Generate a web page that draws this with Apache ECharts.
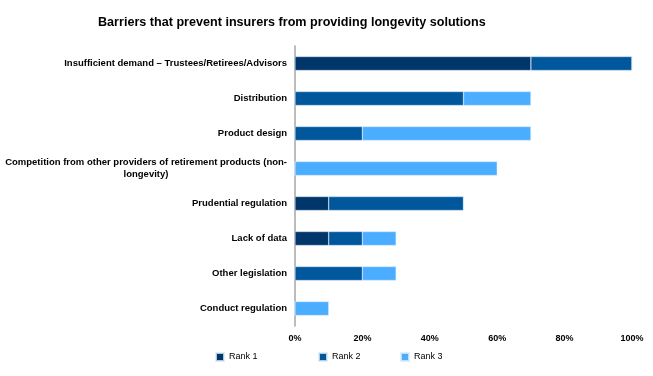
<!DOCTYPE html>
<html>
<head>
<meta charset="utf-8">
<script src="https://cdn.jsdelivr.net/npm/echarts@6/dist/echarts.min.js"></script>
<style>
  html, body { margin: 0; padding: 0; background: #fff; }
  #main { width: 653px; height: 376px; }
</style>
</head>
<body>
<div id="main"></div>
<script>
// categories, top to bottom
const categories = [
  'Insufficient demand \u2013 Trustees/Retirees/Advisors',
  'Distribution',
  'Product design',
  'Competition from other providers of retirement products (non-\nlongevity)',
  'Prudential regulation',
  'Lack of data',
  'Other legislation',
  'Conduct regulation'
];
const rank1 = [70, 0, 0, 0, 10, 10, 0, 0];
const rank2 = [30, 50, 20, 0, 40, 10, 20, 0];
const rank3 = [0, 20, 50, 60, 0, 10, 10, 10];
const xTicks = [0, 20, 40, 60, 80, 100];

const colors = ['#00366A', '#00579C', '#4BADFF'];
const font = 'Liberation Sans, Arial, sans-serif';

let myChart = echarts.init(document.getElementById('main'));

function seriesOf(name, data, color) {
  return {
    name: name,
    type: 'bar',
    stack: 'total',
    barWidth: 14,
    data: data,
    itemStyle: { color: color, borderColor: 'rgba(220,235,250,0.8)', borderWidth: 0.5 },
    emphasis: { disabled: true }
  };
}

function legendAt(left, name) {
  return {
    data: [name],
    left: left,
    top: 347,
    itemWidth: 8,
    itemHeight: 8,
    itemGap: 5,
    icon: 'rect',
    textStyle: { fontFamily: font, fontSize: 9, color: '#000' }
  };
}

// two-line label: second line centred under the first, like the original
function labelText(v) {
  const parts = v.split('\n');
  if (parts.length < 2) return v;
  return parts[0] + '\n{c|' + parts[1] + '}';
}

let option = {
  animation: false,
  title: {
    text: 'Barriers that prevent insurers from providing longevity solutions',
    left: 93,
    top: 11,
    textStyle: { fontFamily: font, fontSize: 12.6, fontWeight: 'bold', color: '#000' }
  },
  legend: [legendAt(210, 'Rank 1'), legendAt(313, 'Rank 2'), legendAt(395, 'Rank 3')],
  grid: { left: 295, right: 21, top: 46, bottom: 50 },
  xAxis: {
    type: 'value',
    min: 0,
    max: 100,
    interval: 20,
    axisLine: { show: false },
    axisTick: { show: false },
    splitLine: { show: false },
    axisLabel: {
      fontFamily: font, fontSize: 9, fontWeight: 'bold', color: '#000', margin: 8,
      formatter: v => xTicks.includes(v) ? v + '%' : ''
    }
  },
  yAxis: {
    type: 'category',
    inverse: true,
    data: categories,
    axisLine: { show: true, lineStyle: { color: '#a6a6a6', width: 1.5 } },
    axisTick: { show: false },
    axisLabel: {
      fontFamily: font, fontSize: 9.5, fontWeight: 'bold', color: '#000', margin: 8,
      align: 'right', lineHeight: 12,
      formatter: labelText,
      rich: {
        c: {
          width: 282, align: 'center', lineHeight: 12,
          fontFamily: font, fontSize: 9.5, fontWeight: 'bold', color: '#000'
        }
      }
    }
  },
  series: [
    seriesOf('Rank 1', rank1, colors[0]),
    seriesOf('Rank 2', rank2, colors[1]),
    seriesOf('Rank 3', rank3, colors[2])
  ]
};
myChart.setOption(option);
</script>
</body>
</html>
